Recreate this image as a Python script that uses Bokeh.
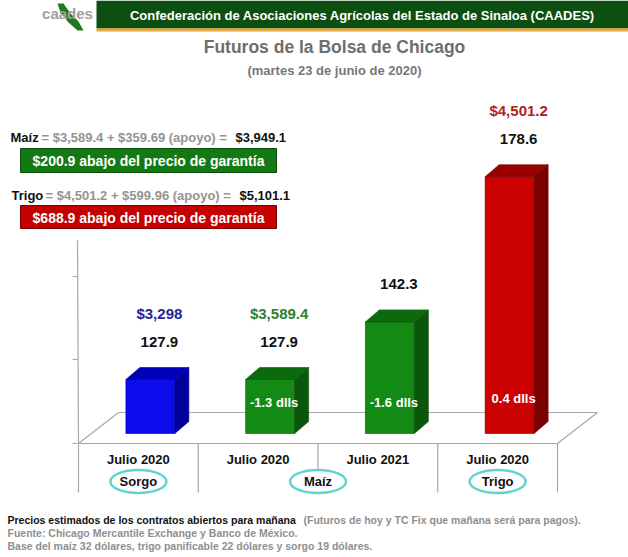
from bokeh.plotting import figure
from bokeh.models import Range1d
from bokeh.core.properties import value
from bokeh.embed import file_html
from bokeh.resources import INLINE

# ---------------- data ----------------
categories = ["Julio 2020", "Julio 2020", "Julio 2021", "Julio 2020"]
values = [127.9, 127.9, 142.3, 178.6]
prices = ["$3,298", "$3,589.4", "", "$4,501.2"]
diffs = ["", "-1.3 dlls", "-1.6 dlls", "0.4 dlls"]
groups = ["Sorgo", "Maíz", "Trigo"]
group_slots = [(0, 0), (1, 2), (3, 3)]

header_text = "Confederación de Asociaciones Agrícolas del Estado de Sinaloa (CAADES)"
title_text = "Futuros de la Bolsa de Chicago"
subtitle_text = "(martes 23 de junio de 2020)"
maiz_parts = ["Maíz", "= $3,589.4 + $359.69 (apoyo) =", "$3,949.1"]
trigo_parts = ["Trigo", "= $4,501.2 + $599.96 (apoyo) =", "$5,101.1"]
maiz_box = "$200.9 abajo del precio de garantía"
trigo_box = "$688.9 abajo del precio de garantía"
foot_bold = "Precios estimados de los contratos abiertos para mañana"
foot_rest = "(Futuros de hoy y TC Fix que mañana será para pagos)."
foot2 = "Fuente: Chicago Mercantile Exchange y Banco de México."
foot3 = "Base del maíz 32 dólares, trigo panificable 22 dólares y sorgo 19 dólares."

# ---------------- styling ----------------
FONT = value("Liberation Sans")
W, H = 628, 557
front_cols = ["#0b0bec", "#138a13", "#138a13", "#cc0202"]
side_cols = ["#00009a", "#0a560a", "#0a560a", "#7c0000"]
top_cols = ["#0000bb", "#0b6a0b", "#0b6a0b", "#990000"]
price_cols = ["#24249a", "#2f7f2f", "#2f7f2f", "#b02222"]

p = figure(width=W, height=H, x_range=Range1d(0, W), y_range=Range1d(H, 0),
           x_axis_type=None, y_axis_type=None, output_backend="svg",
           toolbar_location=None, min_border=0)
p.grid.visible = False
p.outline_line_color = None
p.background_fill_color = "white"
p.border_fill_color = "white"

# value scale for the bars
PX = 4.0          # pixels per unit
BASE_V = 114.4    # value at the bar baseline
BASE_PX = 433
p.extra_y_ranges = {"val": Range1d(start=BASE_V - (H - BASE_PX) / PX,
                                   end=BASE_V + BASE_PX / PX)}


def txt(x, y, t, size, color, bold=True, align="left", **kw):
    p.text(x=[x], y=[y], text=[t], text_font=FONT, text_font_size=f"{size}px",
           text_color=color, text_font_style="bold" if bold else "normal",
           text_align=align, text_baseline="middle", **kw)


# ---------------- header ----------------
p.quad(left=96, right=W, top=0, bottom=28, fill_color="#0c4f10", line_color=None)
p.quad(left=96, right=W, top=28, bottom=31, fill_color="#e6a53a", line_color=None)
p.patch([57, 63, 70, 78, 83, 77, 68, 60], [3, 3, 13, 21, 30, 30, 22, 12],
        fill_color="#1f7a1f", line_color=None)
txt(67, 13, "caades", 15, "#a0a0a0", align="center")
txt(362, 15, header_text, 13, "white", align="center")
txt(334, 46, title_text, 17.5, "#6e6e6e", align="center")
txt(334, 70, subtitle_text, 13, "#777777", align="center")

# ---------------- annotations ----------------
for y, parts, xs in [(137, maiz_parts, (10, 41, 235)), (195, trigo_parts, (11, 45, 239))]:
    txt(xs[0], y, parts[0], 13, "#111111")
    txt(xs[1], y, parts[1], 13, "#939393")
    txt(xs[2], y, parts[2], 13, "#111111")
p.quad(left=20, right=276, top=148, bottom=172, fill_color="#137a13", line_color="#0a4a0a")
txt(148, 160, maiz_box, 14, "white", align="center")
p.quad(left=20, right=276, top=205, bottom=228, fill_color="#c40000", line_color="#780000")
txt(148, 217, trigo_box, 14, "white", align="center")

# ---------------- 3D frame ----------------
FL, FR = 78, 557
FRONT_Y, BACK_Y = 443, 412
DX_FLOOR = 40
slot_w = (FR - FL) / len(values)
p.patch([FL, FL + DX_FLOOR, FR + DX_FLOOR, FR], [FRONT_Y, BACK_Y, BACK_Y, FRONT_Y],
        fill_color="white", line_color="#a8a8a8", line_width=1.2)
p.segment(x0=[77], y0=[240], x1=[78], y1=[FRONT_Y], line_color="#a8a8a8", line_width=1.2)
p.segment(x0=[72] * 3, y0=[276, 359, 443], x1=[77] * 3, y1=[276, 359, 443],
          line_color="#a8a8a8", line_width=1)
div_x = [FL + i * slot_w for i in range(len(values) + 1)]
p.segment(x0=div_x, y0=[FRONT_Y] * len(div_x), x1=div_x, y1=[492] * len(div_x),
          line_color="#a8a8a8", line_width=1.2)

# ---------------- bars ----------------
BAR_W, DX, DDV = 49, 14, 12 / PX
centers = [FL + (i + 0.5) * slot_w for i in range(len(values))]
for i, v in enumerate(values):
    xl = centers[i] - 12.5
    xr = xl + BAR_W
    p.quad(left=[xl], right=[xr], bottom=[BASE_V], top=[v], y_range_name="val",
           fill_color=front_cols[i], line_color=side_cols[i], line_width=0.6)
    p.patch([xr, xr + DX, xr + DX, xr], [BASE_V, BASE_V + DDV, v + DDV, v],
            y_range_name="val", fill_color=side_cols[i], line_color=side_cols[i], line_width=0.6)
    p.patch([xl, xl + DX, xr + DX, xr], [v, v + DDV, v + DDV, v],
            y_range_name="val", fill_color=top_cols[i], line_color=side_cols[i], line_width=0.6)
    cx = xl + (BAR_W + DX) / 2 + 2
    p.text(x=[cx], y=[v + 38 / PX], text=[f"{v:.1f}"], y_range_name="val",
           text_font=FONT, text_font_size="15px", text_font_style="bold",
           text_color="#111111", text_align="center", text_baseline="middle")
    if prices[i]:
        p.text(x=[cx], y=[v + 66 / PX], text=[prices[i]], y_range_name="val",
               text_font=FONT, text_font_size="15px", text_font_style="bold",
               text_color=price_cols[i], text_align="center", text_baseline="middle")
    if diffs[i]:
        txt(xl + BAR_W / 2 + 4, 402 if i < 3 else 398, diffs[i], 13, "white", align="center")

# ---------------- category labels ----------------
for i, c in enumerate(categories):
    txt(centers[i], 459, c, 13, "#111111", align="center")
for g, (a, b) in zip(groups, group_slots):
    gx = (centers[a] + centers[b]) / 2
    p.ellipse(x=[gx], y=[481], width=56, height=23, fill_color="white",
              line_color="#5fd4d2", line_width=2.5)
    txt(gx, 481, g, 13, "#111111", align="center")

# ---------------- footer ----------------
txt(7, 519, foot_bold, 10.5, "#111111")
txt(303, 519, foot_rest, 10.5, "#8f8f8f")
txt(7, 532, foot2, 10.5, "#8f8f8f")
txt(7, 545, foot3, 10.5, "#8f8f8f")

open("out.html", "w").write(file_html(p, INLINE))
